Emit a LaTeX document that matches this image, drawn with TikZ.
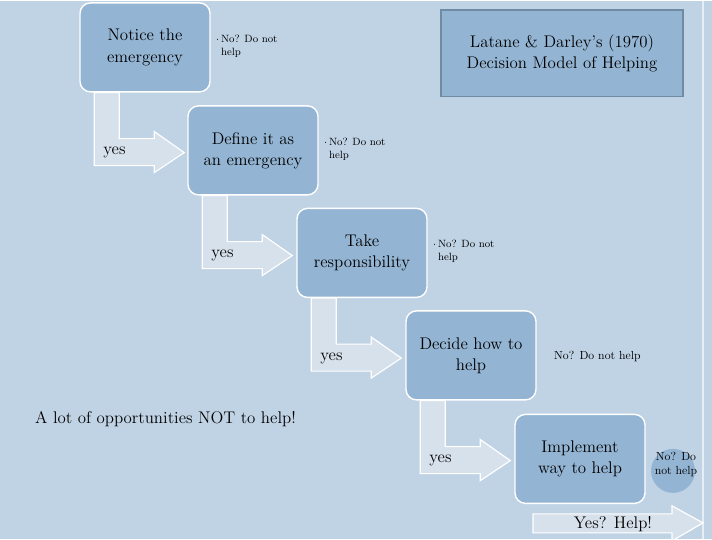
\documentclass[tikz,border=0pt]{standalone}
\usepackage{tikz}
\usetikzlibrary{positioning}
\definecolor{bgblue}{HTML}{C0D3E5}
\definecolor{boxblue}{HTML}{93B4D2}
\definecolor{arrowfill}{HTML}{D7E1EC}
\definecolor{titleframe}{HTML}{6F8AA3}
\tikzset{
    stepbox/.style = {rectangle, rounded corners=9pt, draw=white, line width=1.2pt, fill=boxblue, align=center, font=\Large, minimum width=3.9cm, minimum height=2.67cm, inner sep=2pt},
    notetext/.style = {align=left, font=\small, anchor=north west, inner sep=0pt},
    bentarrow/.style = {fill=arrowfill, draw=white, line width=1pt},
}
% bent arrow below a step box, drawn from its south west corner
\newcommand{\yesarrow}[1]{%
  \draw[bentarrow] (#1.south west) ++(15,0) -- ++(25,0) -- ++(0,46) -- ++(35,0) -- ++(0,-7)
     -- ++(30,21) -- ++(-30,20) -- ++(0,-7) -- ++(-60,0) -- cycle;
  \node[font=\Large, anchor=west] at ([shift={(20,60)}]#1.south west) {yes};
}
\begin{document}
\begin{tikzpicture}[x=0.03cm, y=-0.03cm]
\fill[bgblue] (0,0) rectangle (712,538);
\draw[white!60!bgblue, line width=1.5pt] (703,0) -- (703,538);
\useasboundingbox (0,0) rectangle (712,538);
% steps
\node[stepbox] (notice) at (145,46.5) {Notice the\\emergency};
\node[stepbox] (define) at (253,149.5) {Define it as\\an emergency};
\node[stepbox] (resp) at (362,252) {Take\\responsibility};
\node[stepbox] (decide) at (471,354.5) {Decide how to\\help};
\node[stepbox] (impl) at (580,458) {Implement\\way to help};
\yesarrow{notice}
\yesarrow{define}
\yesarrow{resp}
\yesarrow{decide}
% notes
\node[notetext] (n1) at (216,34) {$\cdot$\,No? Do not\\\phantom{$\cdot$\,}help};
\node[notetext] (n2) at (324,137) {$\cdot$\,No? Do not\\\phantom{$\cdot$\,}help};
\node[notetext] (n3) at (433,239) {$\cdot$\,No? Do not\\\phantom{$\cdot$\,}help};
\node[font=\normalsize, anchor=west] (n4) at (550,356) {No? Do not help};
\fill[boxblue] (673,470) circle (22);
\node[font=\normalsize, align=center, inner sep=0pt] (n5) at (676,464) {No? Do\\not help};
% final arrow
\draw[bentarrow] (533,513) -- (672,513) -- (672,505) -- (703,522) -- (672,540) -- (672,532) -- (533,532) -- cycle;
\node[font=\Large] (helpit) at (613,523) {Yes? Help!};
% side texts
\node[font=\Large, anchor=west] (lot) at (31,418) {A lot of opportunities NOT to help!};
\node[rectangle, draw=titleframe, line width=1pt, fill=boxblue, font=\Large, align=center, minimum width=7.26cm, minimum height=2.6cm] (title) at (562,52.5) {Latane \& Darley's (1970)\\Decision Model of Helping};
\end{tikzpicture}
\end{document}
